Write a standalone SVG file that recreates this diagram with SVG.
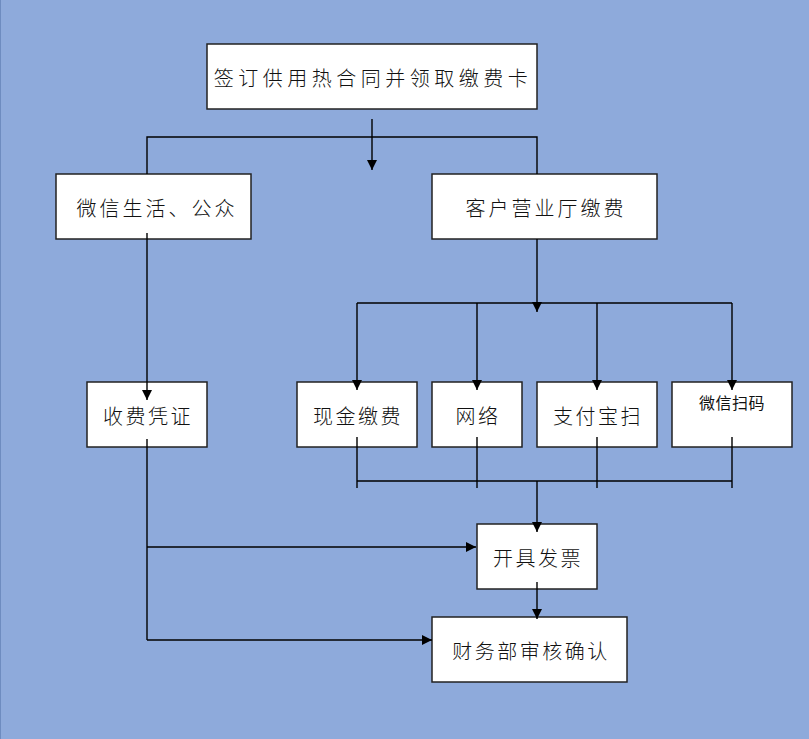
<svg xmlns="http://www.w3.org/2000/svg" width="809" height="739" viewBox="0 0 809 739">
<style>
.box{fill:#fff;stroke:#222;stroke-width:1.5}
.t{font-family:"Noto Sans CJK SC","Noto Sans CJK TC",sans-serif;font-size:20px;font-weight:300;fill:#111;text-anchor:middle;dominant-baseline:central;letter-spacing:2.5px}
.ln{fill:none;stroke:#000;stroke-width:1.4}
</style>
<defs>
<marker id="ah" markerUnits="userSpaceOnUse" markerWidth="12" markerHeight="10" refX="10" refY="5" orient="auto">
<path d="M0,0 L10,5 L0,10 Z" fill="#000"/>
</marker>
</defs>
<rect x="0" y="0" width="809" height="739" fill="#8eaadb"/>
<line x1="0.5" y1="0" x2="0.5" y2="739" stroke="#6e8cc0" stroke-width="1"/>

<g id="n-contract"><rect class="box" x="207" y="44" width="330" height="65"/><text class="t" x="373" y="77" style="letter-spacing:4.5px">签订供用热合同并领取缴费卡</text></g>
<g id="n-wechat-life"><rect class="box" x="56" y="174" width="195" height="65"/><text class="t" x="157" y="207" style="letter-spacing:3px">微信生活、公众</text></g>
<g id="n-hall"><rect class="box" x="432" y="174" width="225" height="65"/><text class="t" x="546" y="207" style="letter-spacing:3px">客户营业厅缴费</text></g>
<g id="n-receipt"><rect class="box" x="87" y="382" width="120" height="65"/><text class="t" x="148" y="415">收费凭证</text></g>
<g id="n-cash"><rect class="box" x="297" y="382" width="120" height="65"/><text class="t" x="358" y="415">现金缴费</text></g>
<g id="n-net"><rect class="box" x="432" y="382" width="90" height="65"/><text class="t" x="478" y="415">网络</text></g>
<g id="n-alipay"><rect class="box" x="537" y="382" width="120" height="65"/><text class="t" x="598" y="415">支付宝扫</text></g>
<g id="n-wxscan"><rect class="box" x="672" y="382" width="120" height="65"/><text class="t" x="732" y="402" style="font-size:16px;font-weight:400;letter-spacing:0.5px">微信扫码</text></g>
<g id="n-invoice"><rect class="box" x="477" y="524" width="120" height="65"/><text class="t" x="538" y="557">开具发票</text></g>
<g id="n-finance"><rect class="box" x="432" y="617" width="195" height="65"/><text class="t" x="531" y="650">财务部审核确认</text></g>

<g id="connectors">
<path class="ln" d="M372,119 V170" marker-end="url(#ah)"/>
<path class="ln" d="M147,174 V137 H537 V174"/>
<path class="ln" d="M147,233 V400" marker-end="url(#ah)"/>
<path class="ln" d="M537,239 V312" marker-end="url(#ah)"/>
<path class="ln" d="M357,303 H732"/>
<path class="ln" d="M357,303 V390" marker-end="url(#ah)"/>
<path class="ln" d="M477,303 V390" marker-end="url(#ah)"/>
<path class="ln" d="M597,303 V390" marker-end="url(#ah)"/>
<path class="ln" d="M732,303 V390" marker-end="url(#ah)"/>
<path class="ln" d="M357,437 V488 M477,437 V488 M597,437 V488 M732,437 V488 M357,481 H732"/>
<path class="ln" d="M537,481 V532" marker-end="url(#ah)"/>
<path class="ln" d="M147,439 V640"/>
<path class="ln" d="M147,547 H476" marker-end="url(#ah)"/>
<path class="ln" d="M147,640 H432" marker-end="url(#ah)"/>
<path class="ln" d="M537,582 V619" marker-end="url(#ah)"/>
</g>
</svg>
